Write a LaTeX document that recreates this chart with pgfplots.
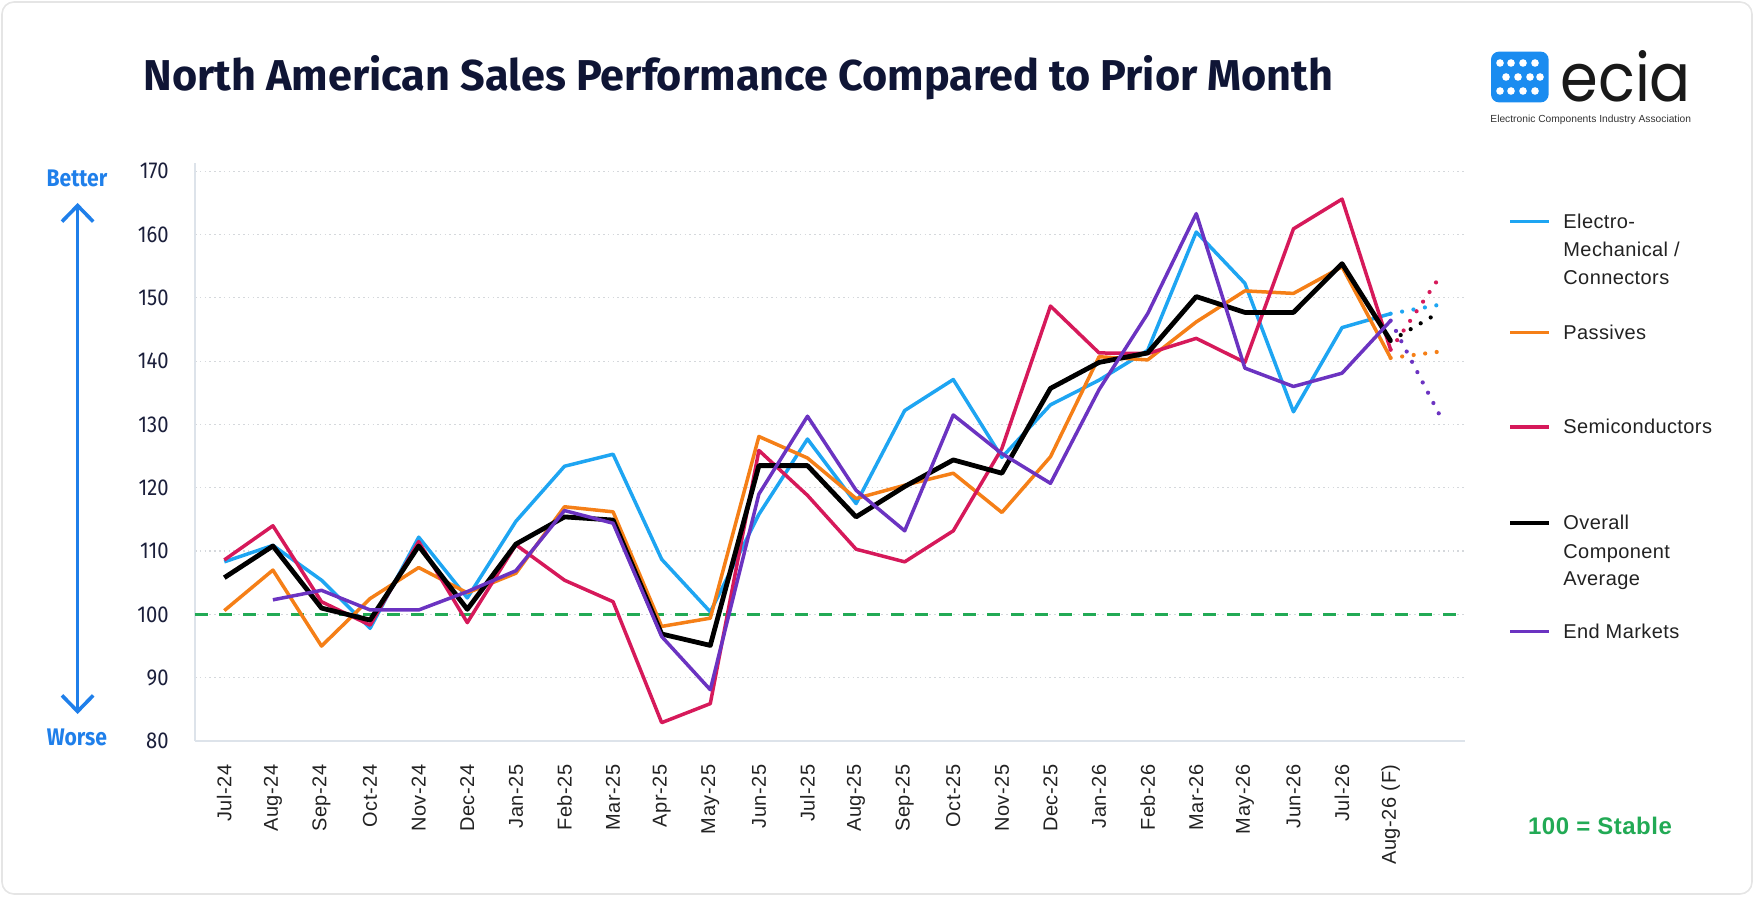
\documentclass[border=0pt]{standalone}
\usepackage{graphicx}
\usepackage{pgfplots}
\pgfplotsset{compat=1.18}
\usepackage{fontspec}
\setmainfont{Liberation Sans}
\newfontfamily\lab[LetterSpace=3]{Liberation Sans}
\newfontfamily\leg[LetterSpace=2]{Liberation Sans}
\newfontfamily\fira{Fira Sans}
\newfontfamily\firacond[FakeStretch=0.88]{Fira Sans}
\newfontfamily\pop{Poppins}
\usetikzlibrary{arrows.meta}
\definecolor{cblue}{HTML}{1EA5F2}
\definecolor{corange}{HTML}{F57F17}
\definecolor{cpink}{HTML}{D6195A}
\definecolor{cpurple}{HTML}{6B33C1}
\definecolor{cgreen}{HTML}{22AA55}
\definecolor{titlecol}{HTML}{0F1535}
\definecolor{ycol}{HTML}{1B1F3B}
\definecolor{labcol}{HTML}{222222}
\definecolor{axiscol}{HTML}{DDE3EA}
\definecolor{gridcol}{HTML}{D5D8DC}
\definecolor{arrowblue}{HTML}{1F7FEA}
\definecolor{logoblue}{HTML}{1A8CF0}
\begin{document}
\begin{tikzpicture}[x=1pt,y=1pt]
\path[use as bounding box] (0,0) rectangle (877,448);
\draw[draw=black!10, line width=0.8pt, rounded corners=6pt] (1,1) rectangle (876,447);
% title
\node[anchor=base west, inner sep=0, text=titlecol] at (71.5,402.5)
  {\resizebox{595pt}{17.5pt}{\fira\bfseries North American Sales Performance Compared to Prior Month}};
% logo
\fill[logoblue, rounded corners=4pt] (745.5,396.8) rectangle (774.3,422.2);
\foreach \px/\py in {750/416.5,755.5/416.5,761.5/416.5,767.5/416.5,
                     753/409.5,759/409.5,765/409.5,770/409.5,
                     750/402.5,755.5/402.5,761.5/402.5,767.5/402.5}
  {\fill[white] (\px,\py) circle (1.9);}
\node[anchor=base west, inner sep=0, text=black!90] at (780,397) {\raisebox{0pt}[25.5pt][0pt]{\resizebox{65.3pt}{25.5pt}{\pop ecia}}};
\node[anchor=base west, inner sep=0, text=black!80] at (745,386.8) {\resizebox{100.3pt}{!}{\fontsize{6}{7}\selectfont Electronic Components Industry Association}};
% better / worse
\draw[arrowblue, line width=1.8pt, {Straight Barb[length=8pt,width=15.6pt]}-{Straight Barb[length=8pt,width=15.6pt]}] (38.8,91) -- (38.8,346.5);
\node[text=arrowblue, inner sep=0] at (38.5,359) {\fontsize{12}{14}\firacond\bfseries Better};
\node[text=arrowblue, inner sep=0] at (38.5,79.5) {\fontsize{12}{14}\firacond\bfseries Worse};
\begin{axis}[
  at={(97.5pt,77.5pt)}, anchor=south west,
  scale only axis, width=635pt, height=289pt,
  xmin=-0.603, xmax=25.53, ymin=80, ymax=171.3,
  axis x line=bottom, axis y line=left,
  axis line style={-, draw=axiscol, line width=0.8pt},
  tick style={draw=none}, major tick length=0pt,
  xtick={0,...,24},
  xticklabels={Jul-24,Aug-24,Sep-24,Oct-24,Nov-24,Dec-24,Jan-25,Feb-25,Mar-25,Apr-25,May-25,Jun-25,Jul-25,Aug-25,Sep-25,Oct-25,Nov-25,Dec-25,Jan-26,Feb-26,Mar-26,May-26,Jun-26,Jul-26,Aug-26 (F)},
  x tick label style={rotate=90, anchor=east, font=\fontsize{10}{12}\lab, text=labcol, inner sep=0pt},
  xticklabel shift=11.5pt,
  ytick={80,90,...,170},
  y tick label style={font=\fontsize{11.5}{13}\firacond, text=ycol, inner sep=0pt},
  yticklabel shift=13pt,
  /pgf/number format/assume math mode=true,
  ymajorgrids, major grid style={gridcol, line width=0.6pt, dash pattern=on 0.8pt off 1.6pt},
  clip=false,
]
\addplot[cgreen, line width=1.4pt, dash pattern=on 6.5pt off 5.5pt] coordinates {(-0.603,100) (25.53,100)};
% Electro-Mechanical / Connectors
\addplot[cblue, line width=1.75pt, line join=round] coordinates {
(0,108.3) (1,110.9) (2,105.4) (3,97.8) (4,112.2) (5,102.6) (6,114.7) (7,123.4) (8,125.3) (9,108.7)
(10,100.4) (11,115.8) (12,127.7) (13,117.5) (14,132.2) (15,137.1) (16,124.8) (17,133.1) (18,137.0)
(19,141.7) (20,160.4) (21,152.3) (22,132.0) (23,145.3) (24,147.5)};
% Passives
\addplot[corange, line width=1.75pt, line join=round] coordinates {
(0,100.6) (1,107.0) (2,95.0) (3,102.5) (4,107.4) (5,103.4) (6,106.5) (7,117.0) (8,116.2) (9,98.1)
(10,99.4) (11,128.1) (12,124.7) (13,118.3) (14,120.4) (15,122.3) (16,116.1) (17,124.9) (18,140.7)
(19,140.2) (20,146.2) (21,151.1) (22,150.7) (23,154.9) (24,140.5)};
% Semiconductors
\addplot[cpink, line width=1.75pt, line join=round] coordinates {
(0,108.6) (1,114.0) (2,102.0) (3,98.3) (4,111.5) (5,98.7) (6,111.0) (7,105.4) (8,102.0) (9,82.9)
(10,85.9) (11,125.9) (12,118.8) (13,110.3) (14,108.3) (15,113.2) (16,126.2) (17,148.7) (18,141.3)
(19,141.2) (20,143.6) (21,139.8) (22,160.9) (23,165.6) (24,141.8)};
% Overall Component Average
\addplot[black, line width=2.4pt, line join=round] coordinates {
(0,105.8) (1,110.8) (2,101.0) (3,99.1) (4,110.8) (5,100.8) (6,111.1) (7,115.4) (8,114.9) (9,96.9)
(10,95.1) (11,123.5) (12,123.5) (13,115.4) (14,120.2) (15,124.4) (16,122.3) (17,135.7) (18,139.8)
(19,141.3) (20,150.2) (21,147.7) (22,147.7) (23,155.4) (24,143.2)};
% End Markets
\addplot[cpurple, line width=1.75pt, line join=round] coordinates {
(1,102.3) (2,103.8) (3,100.7) (4,100.7) (5,103.6) (6,106.9) (7,116.4) (8,114.4) (9,96.5)
(10,88.1) (11,119.0) (12,131.3) (13,119.6) (14,113.2) (15,131.5) (16,125.4) (17,120.7) (18,135.5)
(19,147.5) (20,163.3) (21,138.9) (22,136.0) (23,138.1) (24,146.4)};
% forecasts
\addplot[cblue, line width=2.1pt, line cap=round, dash pattern=on 0pt off 5.8pt] coordinates {(24,147.5) (25,148.9)};
\addplot[corange, line width=2.1pt, line cap=round, dash pattern=on 0pt off 5.8pt] coordinates {(24,140.5) (25,141.5)};
\addplot[cpink, line width=2.1pt, line cap=round, dash pattern=on 0pt off 5.8pt] coordinates {(24,141.8) (25,153.2)};
\addplot[black, line width=2.1pt, line cap=round, dash pattern=on 0pt off 5.8pt] coordinates {(24,143.2) (25,147.7)};
\addplot[cpurple, line width=2.1pt, line cap=round, dash pattern=on 0pt off 5.8pt] coordinates {(24,146.4) (25,131.6)};
\end{axis}
% legend
\draw[cblue, line width=1.8pt] (755,337.2) -- (774.5,337.2);
\draw[corange, line width=1.8pt] (755,281.7) -- (774.5,281.7);
\draw[cpink, line width=1.8pt] (755,234.6) -- (774.5,234.6);
\draw[black, line width=1.8pt] (755,186.6) -- (774.5,186.6);
\draw[cpurple, line width=1.8pt] (755,132.3) -- (774.5,132.3);
\begin{scope}[every node/.style={anchor=base west, inner sep=0, text=labcol, font=\fontsize{10}{12}\leg}]
\node at (781.5,333.9) {Electro-};
\node at (781.5,319.9) {Mechanical /};
\node at (781.5,305.9) {Connectors};
\node at (781.5,278.4) {Passives};
\node at (781.5,231.3) {Semiconductors};
\node at (781.5,183.3) {Overall};
\node at (781.5,169.0) {Component};
\node at (781.5,155.3) {Average};
\node at (781.5,129.0) {End Markets};
\end{scope}
\node[text=cgreen, inner sep=0] at (800,35.2) {\fontsize{12}{14}\fontspec[LetterSpace=2]{Liberation Sans}\bfseries 100 = Stable};
\end{tikzpicture}
\end{document}
